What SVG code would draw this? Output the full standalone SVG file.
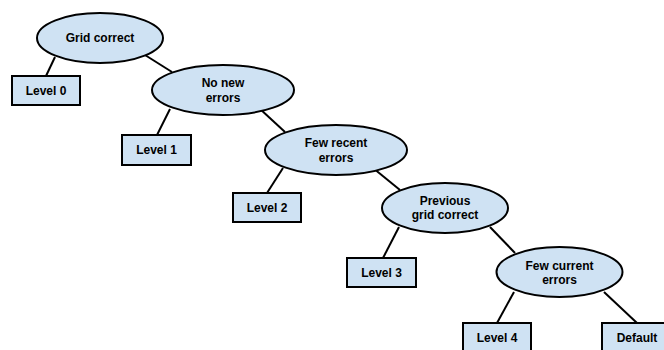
<svg xmlns="http://www.w3.org/2000/svg" width="664" height="350" viewBox="0 0 664 350">
<style>
.n{fill:#cfe2f3;stroke:#000;stroke-width:2}
.t{font-family:"Liberation Sans",Arial,sans-serif;font-weight:bold;font-size:12px;fill:#000;text-anchor:middle}
.c{stroke:#000;stroke-width:2;fill:none}
</style>
<rect width="664" height="350" fill="#fff"/>
<g id="connectors">
<line class="c" x1="55" y1="57" x2="46" y2="76"/>
<line class="c" x1="145" y1="55" x2="172" y2="72"/>
<line class="c" x1="170" y1="109" x2="157" y2="135"/>
<line class="c" x1="259" y1="108" x2="285" y2="132"/>
<line class="c" x1="283" y1="168" x2="267" y2="193"/>
<line class="c" x1="373" y1="168" x2="400" y2="190"/>
<line class="c" x1="399" y1="227" x2="383" y2="258"/>
<line class="c" x1="490" y1="227" x2="515" y2="253"/>
<line class="c" x1="514" y1="292" x2="497" y2="323"/>
<line class="c" x1="604" y1="292" x2="637" y2="323"/>
</g>
<g id="grid-correct">
<ellipse class="n" cx="100" cy="38" rx="63" ry="25"/>
<text class="t" x="100" y="42">Grid correct</text>
</g>
<g id="level0">
<rect class="n" x="12" y="76" width="68" height="29"/>
<text class="t" x="46" y="95">Level 0</text>
</g>
<g id="no-new-errors">
<ellipse class="n" cx="223" cy="90" rx="71" ry="25"/>
<text class="t" x="223" y="87">No new</text>
<text class="t" x="223" y="102">errors</text>
</g>
<g id="level1">
<rect class="n" x="122" y="135" width="69" height="30"/>
<text class="t" x="156.5" y="154">Level 1</text>
</g>
<g id="few-recent-errors">
<ellipse class="n" cx="336" cy="150" rx="71" ry="25"/>
<text class="t" x="336" y="147">Few recent</text>
<text class="t" x="336" y="162">errors</text>
</g>
<g id="level2">
<rect class="n" x="233" y="193" width="68" height="29"/>
<text class="t" x="267" y="212">Level 2</text>
</g>
<g id="previous-grid-correct">
<ellipse class="n" cx="445" cy="208" rx="63" ry="25"/>
<text class="t" x="445" y="205">Previous</text>
<text class="t" x="445" y="219">grid correct</text>
</g>
<g id="level3">
<rect class="n" x="347" y="258" width="69" height="29"/>
<text class="t" x="381.5" y="277">Level 3</text>
</g>
<g id="few-current-errors">
<ellipse class="n" cx="559.5" cy="272" rx="63" ry="25"/>
<text class="t" x="559.5" y="270">Few current</text>
<text class="t" x="559.5" y="284">errors</text>
</g>
<g id="level4">
<rect class="n" x="463" y="323" width="68" height="30"/>
<text class="t" x="497" y="342">Level 4</text>
</g>
<g id="default">
<rect class="n" x="602" y="323" width="70" height="30"/>
<text class="t" x="637" y="342">Default</text>
</g>
</svg>
